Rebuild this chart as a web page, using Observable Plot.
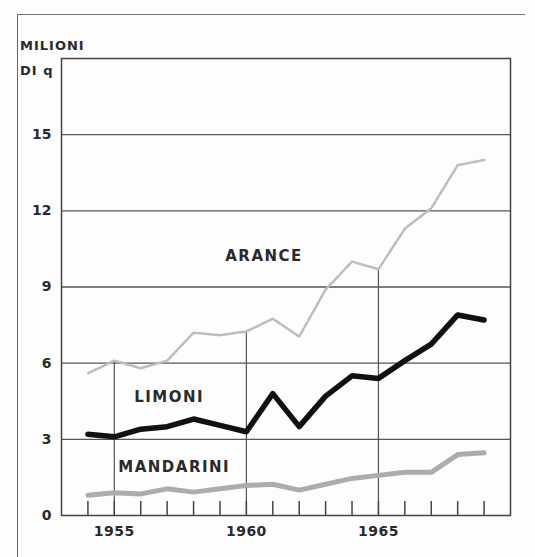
<!DOCTYPE html>
<html>
<head>
<meta charset="utf-8">
<script src="https://cdn.jsdelivr.net/npm/d3@7"></script>
<script src="https://cdn.jsdelivr.net/npm/@observablehq/plot@0.6"></script>
<style>
  html, body { margin: 0; padding: 0; background: #fdfdfd; }
  #wrap { position: relative; width: 535px; height: 557px; overflow: hidden; }
  #outer { position: absolute; left: 17px; top: 14px; width: 507px; height: 560px;
           border-left: 1.5px solid #666; border-top: 1.5px solid #777; }
  .unit { position: absolute; left: 20px; font-family: "DejaVu Sans", sans-serif; font-weight: bold;
          font-size: 13px; letter-spacing: 1px; color: #2a2a2a; line-height: 1; }
  svg text { fill: #2a2a2a; }
</style>
</head>
<body>
<div id="wrap">
  <div id="outer"></div>
  <div class="unit" style="top:39px">MILIONI</div>
  <div class="unit" style="top:64px">DI q</div>
</div>
<script>
const years = [1954, 1955, 1956, 1957, 1958, 1959, 1960, 1961, 1962, 1963, 1964, 1965, 1966, 1967, 1968, 1969];
const arance    = [5.6, 6.1, 5.8, 6.1, 7.2, 7.1, 7.25, 7.75, 7.05, 8.9, 10.0, 9.7, 11.3, 12.1, 13.8, 14.0];
const limoni    = [3.2, 3.1, 3.4, 3.5, 3.8, 3.55, 3.3, 4.8, 3.5, 4.7, 5.5, 5.4, 6.1, 6.75, 7.9, 7.7];
const mandarini = [0.8, 0.9, 0.85, 1.05, 0.92, 1.05, 1.18, 1.23, 1.0, 1.23, 1.46, 1.58, 1.7, 1.7, 2.4, 2.47];
const yTicks = [0, 3, 6, 9, 12, 15];
const gridValues = [3, 6, 9, 12, 15];
const labeledYears = [1955, 1960, 1965];
const seriesNames = ["ARANCE", "LIMONI", "MANDARINI"];

const rows = years.map((year, i) => ({year, arance: arance[i], limoni: limoni[i], mandarini: mandarini[i]}));
const vrows = rows.filter(r => labeledYears.includes(r.year));
const labels = [
  {name: seriesNames[0], x: 1959.2, y: 10.2},
  {name: seriesNames[1], x: 1955.75, y: 4.65},
  {name: seriesNames[2], x: 1955.15, y: 1.9}
];

const chart = Plot.plot({
  width: 535,
  height: 557,
  marginLeft: 61,
  marginRight: 25,
  marginTop: 58,
  marginBottom: 42,
  x: {domain: [1953, 1970]},
  y: {domain: [0, 18]},
  style: {background: "transparent", fontFamily: "DejaVu Sans, sans-serif", fontSize: "14px", fontWeight: "bold", color: "#2a2a2a"},
  marks: [
    Plot.ruleY(gridValues, {stroke: "#555", strokeWidth: 1.3}),
    Plot.ruleX(vrows, {x: "year", y1: 0, y2: "arance", stroke: "#555", strokeWidth: 1.2}),
    Plot.ruleX(rows, {x: "year", y1: 0, y2: 0.55, stroke: "#444", strokeWidth: 1.5}),
    Plot.axisX({ticks: labeledYears, tickSize: 0, tickPadding: 11, tickFormat: d => String(d), label: null}),
    Plot.axisY({ticks: yTicks, tickSize: 0, tickPadding: 10, label: null}),
    Plot.frame({stroke: "#444", strokeWidth: 1.5}),
    Plot.line(rows, {x: "year", y: "mandarini", stroke: "#acacac", strokeWidth: 5, strokeLinejoin: "round"}),
    Plot.line(rows, {x: "year", y: "arance", stroke: "#bcbcbc", strokeWidth: 2.5, strokeDasharray: "6,2"}),
    Plot.line(rows, {x: "year", y: "limoni", stroke: "#111", strokeWidth: 5.5, strokeLinejoin: "round"}),
    Plot.text(labels, {x: "x", y: "y", text: "name", textAnchor: "start", fontSize: 15, fontWeight: "bold", fill: "#222"})
  ]
});
d3.select(chart).selectAll("g[aria-label=text] text").style("letter-spacing", "1.5px");
d3.select(chart).selectAll("g[aria-label^=x-axis] text").style("letter-spacing", "0.5px");
d3.select(chart).style("position", "absolute").style("left", "0").style("top", "0");
document.getElementById("wrap").appendChild(chart);
</script>
</body>
</html>
